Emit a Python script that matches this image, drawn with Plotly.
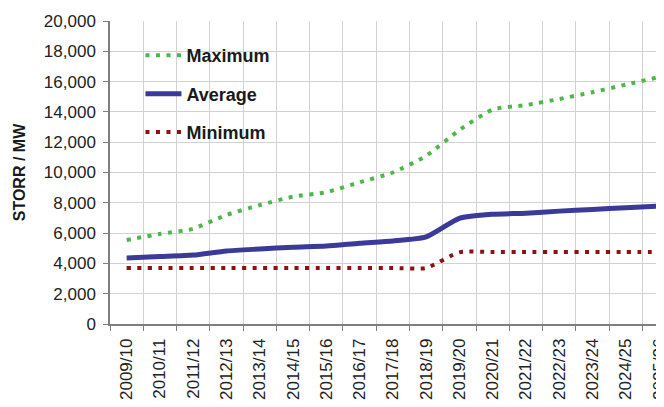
import plotly.graph_objects as go

years = ["2009/10", "2010/11", "2011/12", "2012/13", "2013/14", "2014/15", "2015/16",
         "2016/17", "2017/18", "2018/19", "2019/20", "2020/21", "2021/22", "2022/23",
         "2023/24", "2024/25", "2025/26"]
maximum = [5550, 5940, 6290, 7200, 7850, 8400, 8700, 9350, 10000, 11100,
           12800, 14150, 14450, 14850, 15300, 15800, 16300]
average = [4350, 4450, 4550, 4820, 4950, 5070, 5150, 5330, 5480, 5750,
           6970, 7240, 7310, 7450, 7560, 7680, 7790]
minimum = [3700, 3700, 3700, 3700, 3700, 3700, 3700, 3700, 3700, 3700,
           4730, 4750, 4750, 4750, 4750, 4750, 4750]

fig = go.Figure()
fig.add_trace(go.Scatter(x=years, y=maximum, name="Maximum", mode="lines", legendgroup="a",
                         line=dict(color="#4DB84A", width=4, dash="4px,6.5px", shape="spline", smoothing=0.6)))
fig.add_trace(go.Scatter(x=years, y=average, name="Average", mode="lines", legendgroup="b",
                         line=dict(color="#3B3A99", width=5, shape="spline", smoothing=0.6)))
fig.add_trace(go.Scatter(x=years, y=minimum, name="Minimum", mode="lines", legendgroup="c",
                         line=dict(color="#8E1010", width=4, dash="4px,6.5px", shape="spline", smoothing=0.6)))

fig.update_layout(
    width=656, height=399,
    margin=dict(l=102, r=0, t=13, b=83),
    paper_bgcolor="white", plot_bgcolor="white",
    font=dict(family="Liberation Sans, Arial, sans-serif", color="#222222"),
    showlegend=True,
    legend=dict(x=0.055, y=0.947, xanchor="left", yanchor="top",
                bgcolor="rgba(0,0,0,0)", tracegroupgap=12, itemwidth=36,
                font=dict(size=18, family="Liberation Sans, Arial, sans-serif", color="#1a1a1a", weight="bold")),
)
fig.update_xaxes(
    type="category", range=[-0.5, 16.15], tickangle=-90, tickson="boundaries",
    automargin=False,
    showgrid=True, gridcolor="#d2d2d2", gridwidth=1,
    showline=True, linecolor="#7f7f7f", linewidth=1.5,
    ticks="outside", ticklen=5, tickcolor="#7f7f7f", ticklabelstandoff=6,
    tickfont=dict(size=17, color="#222222"),
)
fig.update_yaxes(
    range=[0, 20000], dtick=2000, tickformat=",",
    automargin=False,
    showgrid=True, gridcolor="#d2d2d2", gridwidth=1, zeroline=False,
    showline=True, linecolor="#7f7f7f", linewidth=1.5,
    ticks="outside", ticklen=5, tickcolor="#7f7f7f", ticklabelstandoff=4,
    tickfont=dict(size=17, color="#222222"),
    title=dict(text="STORR / MW", standoff=14,
               font=dict(size=16, color="#1a1a1a", weight="bold")),
)

fig.write_html("out.html")
